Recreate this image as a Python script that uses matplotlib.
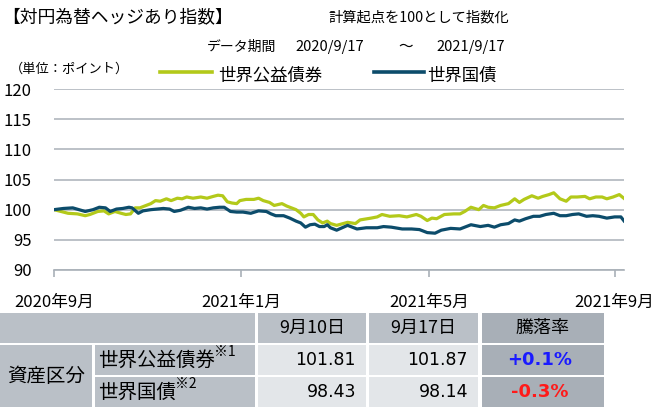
import matplotlib
matplotlib.use("Agg")
from matplotlib import pyplot as plt
from matplotlib.lines import Line2D
from matplotlib.patches import Rectangle
from matplotlib.text import Annotation
import pandas as pd

plt.rcParams['font.family'] = ['Noto Sans CJK JP', 'DejaVu Sans']

""" ------ data read off the reference ------ """

START = pd.Timestamp("2020-09-17")

green_days = [0, 9, 15, 20, 23, 28, 32, 35, 39, 43, 46, 49, 52, 55, 58, 62, 65, 68, 72, 75,
              79, 82, 85, 89, 94, 98, 102, 105, 108, 111, 114, 117, 119, 123, 128, 131, 134,
              138, 141, 146, 149, 152, 155, 158, 160, 163, 166, 169, 172, 175, 177, 181, 188,
              193, 196, 203, 207, 210, 215, 221, 226, 232, 235, 239, 242, 245, 250, 256, 260,
              263, 267, 272, 275, 278, 282, 286, 291, 295, 298, 301, 306, 310, 313, 317, 320,
              324, 328, 331, 335, 340, 343, 347, 351, 354, 358, 362, 365]
green_vals = [100.0, 99.4, 99.3, 99.0, 99.2, 99.7, 99.8, 99.3, 99.7, 99.4, 99.2, 99.3, 100.3,
              100.3, 100.6, 101.0, 101.5, 101.4, 101.8, 101.5, 101.9, 101.8, 102.1, 101.9,
              102.1, 101.9, 102.2, 102.4, 102.3, 101.3, 101.1, 101.0, 101.5, 101.7, 101.7,
              101.9, 101.5, 101.2, 100.7, 101.0, 100.6, 100.3, 100.0, 99.4, 98.8, 99.2, 99.2,
              98.3, 97.8, 98.1, 97.7, 97.4, 97.9, 97.7, 98.3, 98.6, 98.8, 99.2, 98.9, 99.0,
              98.8, 99.2, 98.9, 98.2, 98.6, 98.5, 99.2, 99.3, 99.3, 99.7, 100.4, 100.0, 100.7,
              100.4, 100.3, 100.7, 101.0, 101.8, 101.2, 101.7, 102.3, 101.9, 102.2, 102.5,
              102.8, 101.8, 101.4, 102.1, 102.1, 102.2, 101.8, 102.1, 102.1, 101.8, 102.1,
              102.5, 101.87]

blue_days = [0, 6, 12, 16, 20, 25, 29, 33, 36, 40, 44, 48, 50, 54, 57, 62, 66, 70, 74, 77,
             81, 86, 90, 94, 98, 102, 106, 109, 113, 117, 121, 126, 131, 136, 139, 142, 147,
             151, 155, 158, 161, 164, 167, 170, 173, 175, 177, 181, 188, 194, 200, 207, 211,
             216, 223, 229, 234, 239, 244, 248, 254, 260, 264, 267, 273, 278, 282, 286, 291,
             295, 298, 302, 307, 311, 315, 320, 324, 328, 332, 336, 341, 345, 349, 354, 359,
             363, 365]
blue_vals = [100.0, 100.2, 100.3, 100.0, 99.7, 100.0, 100.4, 100.3, 99.7, 100.1, 100.2, 100.4,
             100.3, 99.4, 99.8, 100.0, 100.1, 100.2, 100.1, 99.7, 99.9, 100.4, 100.2, 100.3,
             100.1, 100.3, 100.4, 100.4, 99.7, 99.6, 99.6, 99.4, 99.8, 99.7, 99.3, 99.0, 99.0,
             98.6, 98.1, 97.8, 97.1, 97.5, 97.6, 97.2, 97.2, 97.5, 97.0, 96.6, 97.4, 96.8,
             97.0, 97.0, 97.2, 97.1, 96.8, 96.8, 96.7, 96.2, 96.1, 96.6, 96.9, 96.8, 97.2,
             97.5, 97.2, 97.4, 97.1, 97.5, 97.7, 98.3, 98.1, 98.5, 98.9, 98.9, 99.2, 99.4,
             99.0, 99.0, 99.2, 99.3, 98.9, 99.0, 98.9, 98.6, 98.8, 98.8, 98.14]

series_names = ["世界公益債券", "世界国債"]
yticks = [90, 95, 100, 105, 110, 115, 120]
xtick_dates = ["2020-09-17", "2021-01-15", "2021-05-15", "2021-09-11"]
xtick_labels = ["2020年9月", "2021年1月", "2021年5月", "2021年9月"]

table_cols = ["9月10日", "9月17日", "騰落率"]
table_rows = ["世界公益債券", "世界国債"]
table_notes = ["※1", "※2"]
vals_0910 = [101.81, 98.43]
vals_0917 = [101.87, 98.14]
changes = ["+0.1%", "-0.3%"]

GREEN = "#b3c91a"
BLUE = "#0c4c6b"
GRID = "#a9b0b8"
HEAD = "#bac0c7"
LIGHT = "#e3e6e9"
DARK = "#a8afb7"

W, H = 662, 408
fig = plt.figure(figsize=(W / 100, H / 100), dpi=100)


def fx(x):
    return x / W


def fy(y):
    return 1 - y / H


def cell(x0, y0, x1, y1, color):
    fig.add_artist(Rectangle((fx(x0), fy(y1)), fx(x1) - fx(x0), fy(y0) - fy(y1),
                             transform=fig.transFigure, facecolor=color, edgecolor="none"))


""" ---- chart ---- """
ax = fig.add_axes([fx(54), fy(270), fx(624) - fx(54), fy(89) - fy(270)])
gd = START + pd.to_timedelta(green_days, unit="D")
bd = START + pd.to_timedelta(blue_days, unit="D")
ax.plot(gd, green_vals, color=GREEN, lw=2.3, solid_joinstyle="round")
ax.plot(bd, blue_vals, color=BLUE, lw=2.3, solid_joinstyle="round")

ax.set_xlim(START, START + pd.Timedelta(days=365))
ax.set_ylim(90, 120)
ax.set_yticks(yticks)
ax.set_yticklabels([str(v) for v in yticks], fontsize=12)
ax.set_xticks(pd.to_datetime(xtick_dates))
ax.set_xticklabels(xtick_labels, fontsize=12)
ax.tick_params(axis="y", length=0, pad=16)
ax.tick_params(axis="x", length=5, width=1.2, color=GRID, pad=12)
ax.grid(axis="y", color=GRID, lw=1.1)
ax.set_axisbelow(True)
for s in ["top", "right", "left"]:
    ax.spines[s].set_visible(False)
ax.spines["bottom"].set_color(GRID)
ax.spines["bottom"].set_linewidth(1.2)

""" ---- header texts ---- """
fig.text(fx(2), fy(17), "【対円為替ヘッジあり指数】", fontsize=12.8, va="center")
fig.text(fx(328), fy(17), "計算起点を100として指数化", fontsize=10.3, va="center")
fig.text(fx(207), fy(47), "データ期間", fontsize=10, va="center")
fig.text(fx(295), fy(47), "2020/9/17", fontsize=10.5, va="center")
fig.text(fx(398), fy(47), "～", fontsize=10.5, va="center")
fig.text(fx(436), fy(47), "2021/9/17", fontsize=10.5, va="center")
fig.text(fx(10), fy(69), "（単位：ポイント）", fontsize=9.5, va="center")

# legend drawn by hand so line and label sit like the original
for (x0, x1, tx), c, name in zip([(160, 212, 218), (374, 424, 427)], [GREEN, BLUE], series_names):
    fig.add_artist(Line2D([fx(x0), fx(x1)], [fy(72), fy(72)], transform=fig.transFigure,
                          color=c, lw=2.6))
    fig.text(fx(tx), fy(76), name, fontsize=12.5, va="center")

""" ---- table ---- """
cols_x = [(258, 366), (369, 478), (482, 604)]
rows_y = [(345, 375), (377, 407)]

cell(0, 313, 255, 343, HEAD)
for (x0, x1), lab, col in zip(cols_x, table_cols, [HEAD, HEAD, DARK]):
    cell(x0, 313, x1, 343, col)
    fig.text(fx((x0 + x1) / 2), fy(328), lab, fontsize=13, ha="center", va="center")

cell(0, 345, 92, 407, HEAD)
fig.text(fx(46), fy(376), "資産区分", fontsize=14, ha="center", va="center")

for i, (y0, y1) in enumerate(rows_y):
    yc = (y0 + y1) / 2
    cell(95, y0, 255, y1, HEAD)
    t = fig.text(fx(98), fy(yc), table_rows[i], fontsize=14, va="center")
    # superscript note sits right after the row label
    fig.add_artist(Annotation(table_notes[i], xy=(1, 0.55), xycoords=t, xytext=(-1, 0),
                              textcoords="offset points", fontsize=10, va="bottom", ha="left"))
    cell(cols_x[0][0], y0, cols_x[0][1], y1, LIGHT)
    cell(cols_x[1][0], y0, cols_x[1][1], y1, LIGHT)
    cell(cols_x[2][0], y0, cols_x[2][1], y1, DARK)
    fig.text(fx(cols_x[0][1] - 10), fy(yc), f"{vals_0910[i]:.2f}", fontsize=12.5,
             ha="right", va="center", family="DejaVu Sans")
    fig.text(fx(cols_x[1][1] - 10), fy(yc), f"{vals_0917[i]:.2f}", fontsize=12.5,
             ha="right", va="center", family="DejaVu Sans")
    fig.text(fx(sum(cols_x[2]) / 2 - 3), fy(yc), changes[i], fontsize=13, weight="bold",
             color="#1a1aff" if changes[i].startswith("+") else "#ff1a1a",
             ha="center", va="center", family="DejaVu Sans")

fig.savefig("out.png", dpi=100)
